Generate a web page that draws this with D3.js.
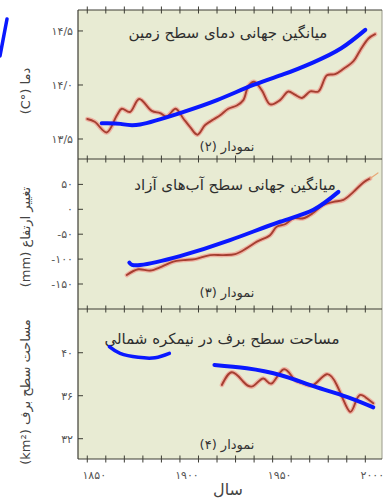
<!DOCTYPE html>
<html>
<head>
<meta charset="utf-8">
<script src="https://cdn.jsdelivr.net/npm/d3@7"></script>
<style>
body { margin: 0; background: #fff; }
svg { display: block; font-family: "DejaVu Sans", sans-serif; }
</style>
</head>
<body>
<svg id="chart" width="386" height="500"></svg>
<script>
// years on the x axis
var xTicks = [1850, 1860, 1870, 1880, 1890, 1900, 1910, 1920, 1930, 1940, 1950, 1960, 1970, 1980, 1990, 2000];
var xLabels = [1850, 1900, 1950, 2000];
var xLabelText = ["۱۸۵۰", "۱۹۰۰", "۱۹۵۰", "۲۰۰۰"];

// panel 2 - global land temperature (red = data, blue = hand drawn trend)
var tempYears = [1850, 1854, 1860.5, 1866, 1868.6, 1873, 1878, 1884.8, 1889.3, 1892.9, 1897.7, 1901.8, 1905.5, 1909.4, 1913.6, 1918, 1921.7, 1926.1, 1930.7, 1934.2, 1936.9, 1940, 1944.2, 1948.7, 1954, 1958.5, 1962, 1965.8, 1970.3, 1974.7, 1979.3, 1983.7, 1988.3, 1993.6, 1997.2, 2001.7, 2005.3];
var tempValues = [13.685, 13.66, 13.56, 13.72, 13.78, 13.75, 13.87, 13.76, 13.74, 13.71, 13.78, 13.69, 13.61, 13.54, 13.63, 13.68, 13.72, 13.78, 13.81, 13.86, 13.99, 14.03, 13.95, 13.82, 13.86, 13.94, 13.91, 13.88, 13.94, 13.94, 14.09, 14.10, 14.15, 14.22, 14.32, 14.43, 14.47];
var tempTrendYears = [1857.8, 1868, 1878.5, 1900, 1920, 1939.6, 1956, 1972, 1987, 2000];
var tempTrendValues = [13.645, 13.64, 13.635, 13.74, 13.86, 14.0, 14.1, 14.21, 14.34, 14.51];
var tempTicks = [13.5, 14.0, 14.5];
var tempTickLabels = ["۱۳/۵", "۱۴/۰", "۱۴/۵"];

// panel 3 - sea level change (mm)
var seaYears = [1871.3, 1877.5, 1883.9, 1890.2, 1896.4, 1901.8, 1908.2, 1916.3, 1923.4, 1929.8, 1936.1, 1941.5, 1948.6, 1952.2, 1956.7, 1961.2, 1966.6, 1972, 1977.4, 1982.8, 1988.2, 1993.6, 1999, 2002.6];
var seaValues = [-132, -120.5, -123, -115, -105, -102, -100, -92, -92, -90, -78, -65, -52, -35, -30, -18, -18, -7, 9, 15, 19, 35, 54, 62];
var seaExtraYears = [2002.6, 2006.8];
var seaExtraValues = [62, 73];
var seaTrendYears = [1872.7, 1878.5, 1900, 1927, 1954, 1972, 1985.5];
var seaTrendValues = [-107, -112, -94, -62, -25, -1, 35];
var seaTicks = [-150, -100, -50, 0, 50];
var seaTickLabels = ["-۱۵۰", "-۱۰۰", "-۵۰", "۰", "۵۰"];

// panel 4 - northern hemisphere snow cover (million km2)
var snowYears = [1922.6, 1928, 1934.2, 1939.6, 1945, 1949.6, 1955.8, 1961.2, 1965.7, 1972, 1979.2, 1984.6, 1988.2, 1991.8, 1994.5, 1997.2, 2000.8, 2004.3];
var snowValues = [37.0, 38.18, 37.3, 36.9, 37.6, 37.15, 38.45, 37.6, 37.2, 37.0, 38.0, 37.0, 35.6, 34.5, 35.3, 36.07, 35.76, 35.3];
var snowTrendYears = [1918.6, 1936, 1954, 1972, 1990, 2004.3];
var snowTrendValues = [38.86, 38.55, 37.93, 36.9, 35.9, 34.92];
var snowTrend2Years = [1861.9, 1867.7, 1877.5, 1886.6, 1894.3];
var snowTrend2Values = [40.56, 39.94, 39.57, 39.53, 39.94];
var snowTicks = [32, 36, 40];
var snowTickLabels = ["۳۲", "۳۶", "۴۰"];

var svg = d3.select("#chart");
var left = 78, right = 382;
var x = d3.scaleLinear().domain([1845, 2009]).range([left, right]);

var panels = [
  { top: 10, bottom: 159, domain: [13.315, 14.694], ticks: tempTicks, labels: tempTickLabels,
    title: "میانگین جهانی دمای سطح زمین", titleX: 228, titleY: 38,
    num: "نمودار (۲)", numY: 151,
    yTitle: "دما (°C)", yTitleY: 91 },
  { top: 159, bottom: 309, domain: [-200.2, 101], ticks: seaTicks, labels: seaTickLabels,
    title: "میانگین جهانی سطح آب‌های آزاد", titleX: 235, titleY: 190,
    num: "نمودار (۳)", numY: 297,
    yTitle: "تغییر ارتفاع (mm)", yTitleY: 237 },
  { top: 309, bottom: 459, domain: [30.11, 44.07], ticks: snowTicks, labels: snowTickLabels,
    title: "مساحت سطح برف در نیمکره شمالی", titleX: 222, titleY: 344,
    num: "نمودار (۴)", numY: 449,
    yTitle: "مساحت سطح برف (km²)", yTitleY: 392 }
];

panels.forEach(function(p) {
  p.y = d3.scaleLinear().domain(p.domain).range([p.bottom, p.top]);
});

// background box
svg.append("rect")
  .attr("x", left).attr("y", panels[0].top)
  .attr("width", right - left).attr("height", panels[2].bottom - panels[0].top)
  .attr("fill", "#e8ebd3");

function drawLine(p, xs, ys, stroke, width, curve) {
  var pts = xs.map(function(d, i) { return [d, ys[i]]; });
  var line = d3.line()
    .x(function(d) { return x(d[0]); })
    .y(function(d) { return p.y(d[1]); })
    .curve(curve);
  svg.append("path")
    .datum(pts)
    .attr("d", line)
    .attr("fill", "none")
    .attr("stroke", stroke)
    .attr("stroke-width", width)
    .attr("stroke-linecap", "round")
    .attr("stroke-linejoin", "round");
}

// red data with light halo
function redSeries(p, xs, ys, curve) {
  drawLine(p, xs, ys, "#eeb2a2", 4.5, curve);
  drawLine(p, xs, ys, "#a63e30", 1.9, curve);
}

redSeries(panels[0], tempYears, tempValues, d3.curveCatmullRom);
redSeries(panels[1], seaYears, seaValues, d3.curveCatmullRom);
drawLine(panels[1], seaExtraYears, seaExtraValues, "#e8a878", 1.2, d3.curveLinear);
redSeries(panels[2], snowYears, snowValues, d3.curveNatural);

// frame lines and ticks
var axisColor = "#3d3d35";
svg.append("line").attr("x1", left).attr("x2", left)
  .attr("y1", panels[0].top).attr("y2", panels[2].bottom)
  .attr("stroke", axisColor).attr("stroke-width", 1.2);
svg.append("line").attr("x1", right).attr("x2", right)
  .attr("y1", panels[0].top).attr("y2", panels[2].bottom)
  .attr("stroke", "#9a9a8a").attr("stroke-width", 1);

var hLines = [panels[0].top, panels[1].top, panels[2].top, panels[2].bottom];
hLines.forEach(function(yy) {
  svg.append("line").attr("x1", left).attr("x2", right)
    .attr("y1", yy).attr("y2", yy)
    .attr("stroke", axisColor).attr("stroke-width", 1.2);
  svg.append("g").selectAll("line")
    .data(xTicks).enter().append("line")
    .attr("x1", function(d) { return x(d); })
    .attr("x2", function(d) { return x(d); })
    .attr("y1", yy - 3.5).attr("y2", yy + 3.5)
    .attr("stroke", axisColor).attr("stroke-width", 1);
});

// y axes
panels.forEach(function(p) {
  var g = svg.append("g");
  g.selectAll("line").data(p.ticks).enter().append("line")
    .attr("x1", left).attr("x2", left + 5)
    .attr("y1", function(d) { return p.y(d); })
    .attr("y2", function(d) { return p.y(d); })
    .attr("stroke", axisColor).attr("stroke-width", 1);
  g.selectAll("text").data(p.ticks).enter().append("text")
    .attr("x", left - 5)
    .attr("y", function(d) { return p.y(d); })
    .attr("dy", "0.35em")
    .attr("text-anchor", "end")
    .attr("font-size", 11)
    .attr("fill", "#555")
    .text(function(d, i) { return p.labels[i]; });

  svg.append("text")
    .attr("x", p.titleX).attr("y", p.titleY)
    .attr("text-anchor", "middle")
    .attr("direction", "rtl")
    .attr("font-size", 15)
    .attr("fill", "#2e2e2e")
    .text(p.title);

  svg.append("text")
    .attr("x", 227).attr("y", p.numY)
    .attr("text-anchor", "middle")
    .attr("direction", "rtl")
    .attr("font-size", 13)
    .attr("fill", "#333")
    .text(p.num);

  svg.append("text")
    .attr("transform", "translate(30," + p.yTitleY + ") rotate(-90)")
    .attr("text-anchor", "middle")
    .attr("direction", "rtl")
    .attr("font-size", 13)
    .attr("fill", "#444")
    .text(p.yTitle);
});

// x labels
svg.append("g").selectAll("text")
  .data(xLabels).enter().append("text")
  .attr("x", function(d) { return x(d) + 7; })
  .attr("y", 479)
  .attr("text-anchor", "middle")
  .attr("font-size", 11)
  .attr("fill", "#555")
  .text(function(d, i) { return xLabelText[i]; });

svg.append("text")
  .attr("x", 228).attr("y", 495)
  .attr("text-anchor", "middle")
  .attr("font-size", 16)
  .attr("fill", "#444")
  .text("سال");

// blue hand drawn trends
var blue = "#0a18ff";
drawLine(panels[0], tempTrendYears, tempTrendValues, blue, 4, d3.curveNatural);
drawLine(panels[1], seaTrendYears, seaTrendValues, blue, 4, d3.curveNatural);
drawLine(panels[2], snowTrendYears, snowTrendValues, blue, 4, d3.curveNatural);
drawLine(panels[2], snowTrend2Years, snowTrend2Values, blue, 3.5, d3.curveNatural);

// pen stroke in the top left margin
svg.append("line")
  .attr("x1", 7).attr("y1", 19).attr("x2", 0).attr("y2", 56)
  .attr("stroke", blue).attr("stroke-width", 3.5).attr("stroke-linecap", "round");
</script>
</body>
</html>
